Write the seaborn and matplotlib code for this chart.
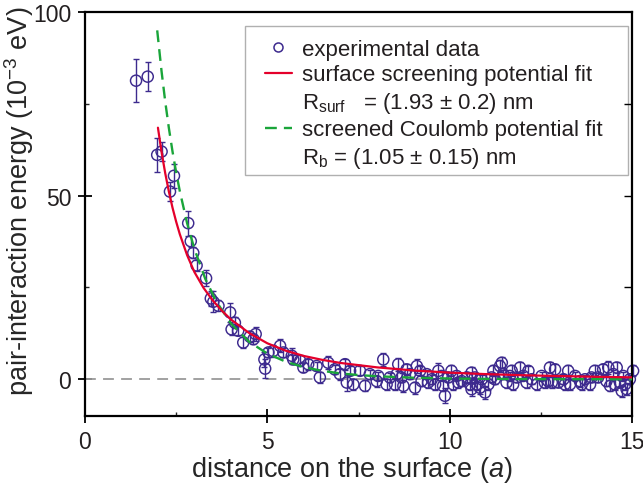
import numpy as np
import pandas as pd
import matplotlib
matplotlib.use("Agg")
import matplotlib.pyplot as plt
import seaborn as sns
from matplotlib.lines import Line2D
from matplotlib.patches import Rectangle
from matplotlib.ticker import MultipleLocator

# ---------------- data ----------------
x_data = [1.40, 1.72, 1.98, 2.10, 2.33, 2.44, 2.83, 2.90, 2.97, 3.06,
          3.32, 3.45, 3.52, 3.66, 3.98, 4.02, 4.11, 4.20, 4.34, 4.52,
          4.62, 4.68, 4.92, 4.94, 5.03, 5.16, 5.35, 5.44, 5.67, 5.71,
          5.90, 5.99, 6.12, 6.35, 6.44, 6.67, 6.85, 6.99, 7.13, 7.18,
          7.27, 7.36, 7.54, 7.68, 7.81, 8.00, 8.04, 8.18, 8.27, 8.36,
          8.50, 8.55, 8.59, 8.68, 8.73, 8.82, 8.91, 9.05, 9.10, 9.19,
          9.23, 9.37, 9.41, 9.51, 9.60, 9.69, 9.78, 9.82, 9.87, 9.96,
          10.05, 10.10, 10.19, 10.24, 10.33, 10.47, 10.56, 10.60, 10.60, 10.69,
          10.74, 10.83, 10.88, 10.97, 11.06, 11.15, 11.20, 11.24, 11.38, 11.43,
          11.47, 11.56, 11.65, 11.70, 11.74, 11.84, 11.93, 12.02, 12.11, 12.16,
          12.25, 12.39, 12.52, 12.61, 12.70, 12.75, 12.80, 12.89, 12.98, 13.12,
          13.16, 13.25, 13.30, 13.44, 13.57, 13.62, 13.71, 13.85, 13.89, 13.98,
          14.07, 14.21, 14.30, 14.35, 14.40, 14.49, 14.53, 14.58, 14.67, 14.72,
          14.76, 14.81, 14.85, 14.94, 15.03]
y_data = [81.3, 82.4, 61.1, 62.0, 51.1, 55.4, 42.5, 37.6, 34.4, 31.0,
          27.5, 22.0, 21.1, 20.0, 18.2, 13.6, 15.4, 13.2, 10.0, 11.6,
          10.9, 12.3, 5.4, 2.9, 7.3, 7.7, 9.1, 7.3, 6.4, 5.4,
          5.0, 3.2, 4.1, 3.6, 0.5, 4.5, 2.7, 1.4, 4.1, -0.9,
          2.3, -1.4, 2.3, -1.8, 1.4, -0.5, 0.9, 5.4, -1.4, 0.5,
          -1.4, 1.4, 4.1, 0.5, -1.8, 2.7, 1.4, -2.3, 3.6, 2.3,
          -0.5, 1.4, -0.9, 0.0, -1.4, 2.3, 0.9, -1.8, -4.5, 0.5,
          2.3, -1.4, 0.9, -0.9, -0.5, 0.5, -1.4, 1.8, -2.7, 0.5,
          -1.4, -2.3, 0.0, -3.6, -1.4, 0.5, 2.3, 0.0, 3.6, 4.5,
          1.4, -0.9, 0.9, 2.3, -1.4, 0.5, 3.2, 0.9, -0.9, 2.3,
          0.0, -1.4, 0.9, -0.9, -0.5, 3.2, -0.9, 2.7, -0.9, 0.0,
          -1.4, 2.3, -1.4, 0.9, -0.5, -1.4, 0.0, -1.4, 0.5, 2.3,
          0.5, 2.7, -0.5, 3.2, -1.8, 1.4, -1.4, 3.2, -0.9, -3.2,
          0.9, -1.4, -2.7, 0.0, 2.3]
y_err = [5.9, 3.9, 4.6, 2.5, 2.5, 3.2, 3.4, 1.5, 1.5, 1.5,
         2.2, 2.0, 2.8, 1.5, 2.6, 1.5, 1.5, 1.2, 1.5, 1.5,
         1.2, 1.8, 2.0, 2.6, 1.2, 1.5, 1.8, 1.2, 2.2, 1.2,
         1.5, 1.2, 1.5, 1.2, 1.5, 1.8, 1.2, 1.5, 1.5, 2.2,
         1.2, 1.5, 1.2, 1.5, 1.2, 1.5, 1.2, 1.8, 1.5, 1.2,
         1.5, 1.4, 1.8, 1.2, 1.6, 1.5, 1.2, 1.6, 1.8, 1.2,
         1.4, 1.2, 1.5, 1.2, 1.6, 2.0, 1.2, 1.5, 2.0, 1.2,
         1.5, 1.4, 1.2, 1.6, 1.2, 1.4, 1.5, 1.5, 1.8, 1.2,
         1.4, 1.6, 1.2, 1.8, 1.4, 1.2, 1.5, 1.2, 1.6, 1.5,
         1.2, 1.5, 1.2, 1.5, 1.4, 1.2, 1.5, 1.2, 1.5, 1.4,
         1.2, 1.5, 1.2, 1.4, 1.2, 1.6, 1.4, 1.5, 1.2, 1.4,
         1.5, 1.6, 1.4, 1.2, 1.5, 1.4, 1.2, 1.5, 1.2, 1.6,
         1.2, 1.5, 1.2, 1.8, 1.5, 1.2, 1.4, 1.6, 1.2, 1.5,
         1.2, 1.4, 1.6, 1.2, 1.5]

red_x = [2.0, 2.1, 2.2, 2.3, 2.4, 2.5, 2.6, 2.8, 3.0, 3.25, 3.5, 3.75, 4.0,
         4.5, 5.0, 5.5, 6.0, 6.5, 7.0, 8.0, 9.0, 10.0, 11.0, 12.0, 13.0, 14.0, 15.0]
red_y = [68.5, 61.85, 56.1, 51.1, 46.7, 42.9, 39.5, 33.8, 29.2, 24.9, 21.5, 18.7, 16.3,
         12.6, 9.8, 7.8, 6.35, 5.3, 4.45, 3.25, 2.4, 1.8, 1.4, 1.1, 0.88, 0.68, 0.52]

green_x = [1.98, 2.1, 2.2, 2.3, 2.4, 2.5, 2.6, 2.8, 3.0, 3.3, 3.6, 4.0, 4.5,
           5.0, 5.5, 6.0, 6.5, 7.0, 7.5, 8.0, 9.0, 10.0, 11.0, 12.0, 13.5, 15.0]
green_y = [95.0, 83.8, 75.6, 68.4, 62.0, 56.3, 51.2, 42.5, 35.5, 27.3, 21.2, 15.2, 10.2,
           7.0, 4.8, 3.3, 2.3, 1.6, 1.15, 0.82, 0.42, 0.21, 0.11, 0.06, 0.02, 0.007]

x_ticks = [0, 5, 10, 15]
y_ticks = [0, 50, 100]

label_data = "experimental data"
label_red = "surface screening potential fit"
label_red2 = "R$_\\mathregular{surf}$   = (1.93 ± 0.2) nm"
label_green = "screened Coulomb potential fit"
label_green2 = "R$_\\mathregular{b}$ = (1.05 ± 0.15) nm"

# ---------------- style ----------------
sns.set_theme(style="white")
plt.rcParams["font.family"] = ["Liberation Sans", "DejaVu Sans"]
plt.rcParams["mathtext.fontset"] = "custom"
plt.rcParams["mathtext.rm"] = "Liberation Sans"
plt.rcParams["mathtext.it"] = "Liberation Sans:italic"
plt.rcParams["text.color"] = "#231f20"

c_pts = "#3d2a8e"
c_red = "#e4002b"
c_green = "#1aa53a"

W, H = 643, 489
fig = plt.figure(figsize=(W / 100, H / 100), dpi=100)
ax = fig.add_axes([85 / W, 1 - 417 / H, 547 / W, 404 / H])

df = pd.DataFrame({"x": x_data, "y": y_data, "err": y_err})

ax.axhline(0, color="#9a9a9a", lw=1.3, ls=(0, (6, 4)), zorder=1)

sns.lineplot(x=green_x, y=green_y, ax=ax, color=c_green, lw=1.7,
             linestyle=(0, (5, 3)), sort=False, zorder=3)
sns.lineplot(x=red_x, y=red_y, ax=ax, color=c_red, lw=1.6, sort=False, zorder=4)

ax.errorbar(df["x"], df["y"], yerr=df["err"], fmt="none", ecolor=c_pts,
            elinewidth=1.0, capsize=2.5, capthick=1.0, zorder=2, clip_on=False)
sns.scatterplot(data=df, x="x", y="y", ax=ax, marker="o", s=64,
                fc="none", ec=c_pts, linewidth=1.05, zorder=2, clip_on=False)

ax.set_xlim(0, 15)
ax.set_ylim(-10, 100)
ax.set_xticks(x_ticks)
ax.set_yticks(y_ticks)
ax.xaxis.set_minor_locator(MultipleLocator(2.5))
ax.yaxis.set_minor_locator(MultipleLocator(25))
ax.tick_params(which="major", direction="inout", length=10, width=1.3,
               labelsize=16.5, pad=5, colors="black", labelcolor="#231f20",
               bottom=True, left=True, top=False, right=False)
ax.tick_params(which="minor", direction="in", length=3, width=1.0,
               bottom=True, left=True, top=False, right=False)

for s in ax.spines.values():
    s.set_linewidth(1.6)
    s.set_color("black")
    s.set_visible(True)

ax2 = ax.twinx()
ax2.set_ylim(-10, 100)
ax2.set_yticks([25, 50, 75])
ax2.tick_params(axis="y", direction="in", length=5.5, width=1.0,
                labelright=False, right=True, colors="black")
for s in ax2.spines.values():
    s.set_visible(False)
ax2.grid(False)

ax.set_xlabel("distance on the surface ($\\mathit{a}$)", fontsize=19.5)
ax.xaxis.set_label_coords(0.487, -0.095)
ax.set_ylabel("pair-interaction energy (10$^\\mathregular{-3}$ eV)", fontsize=19.5)
ax.yaxis.set_label_coords(-0.09, 0.535)

# legend frame (drawn separately to match the reference padding)
frame = Rectangle((245 / W, 1 - 176 / H), 383 / W, 149 / H, transform=fig.transFigure,
                  facecolor="white", edgecolor="#b0b0b0", lw=1.0, zorder=9, clip_on=False)
ax.add_patch(frame)

handles = [
    Line2D([], [], marker="o", ls="none", mfc="none", mec=c_pts, ms=6.5, mew=1.1),
    Line2D([], [], color=c_red, lw=1.6),
    Line2D([], [], color="none"),
    Line2D([], [], color=c_green, lw=1.7, ls=(0, (5, 3))),
    Line2D([], [], color="none"),
]
labels = [label_data, label_red, label_red2, label_green, label_green2]
leg = ax.legend(handles, labels, loc="upper left",
                bbox_to_anchor=((265 - 85) / 547, (417 - 40) / 404),
                borderaxespad=0, borderpad=0, fontsize=16, frameon=False,
                handlelength=1.2, handletextpad=0.45, labelspacing=0.2)
leg.set_zorder(10)

fig.savefig("out.png", dpi=100)
